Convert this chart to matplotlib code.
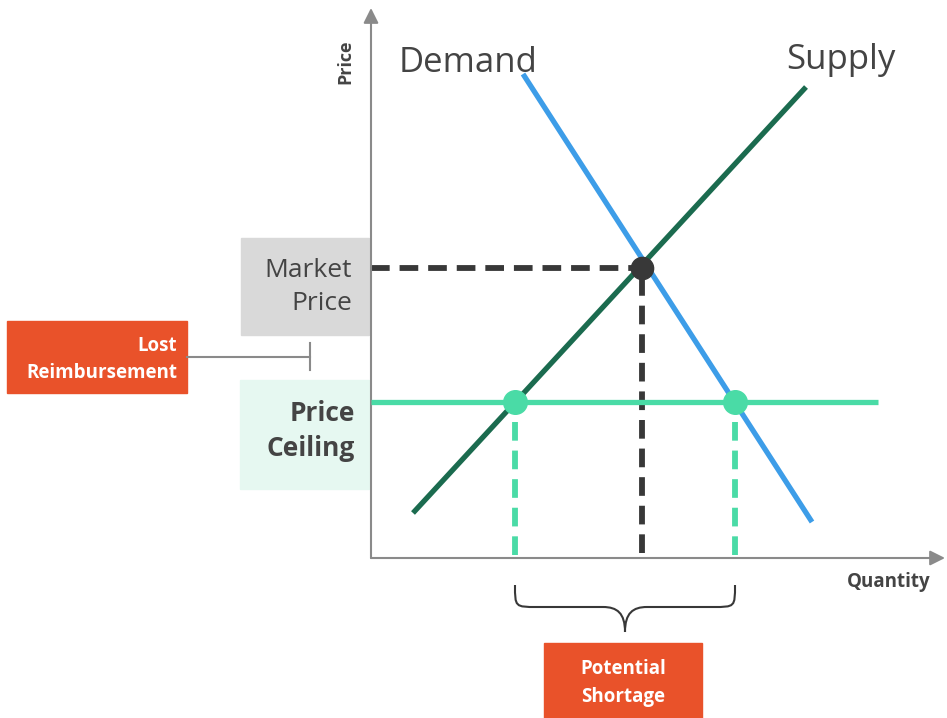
import matplotlib
matplotlib.use("Agg")
import matplotlib.pyplot as plt
from matplotlib.patches import Rectangle, PathPatch
from matplotlib.path import Path

plt.rcParams['font.family'] = ['Open Sans', 'DejaVu Sans']

# ---- data (quantity, price in chart units) ----
supply_q = [42, 435]
supply_p = [45, 471]
demand_q = [152, 441]
demand_p = [484, 36]
equilibrium_q = [271]
equilibrium_p = [290]
ceiling_price = 156
ceiling_q_range = [0, 507]
shortage_q = [144, 364]   # quantity supplied, quantity demanded at ceiling

C_SUPPLY = '#1b6b4f'
C_DEMAND = '#3d9de8'
C_CEIL = '#4adba6'
C_DARK = '#383838'
C_ORANGE = '#e9522a'
C_TEXT = '#444444'
C_AXIS = '#8a8a8a'

W, H = 947, 718
fig = plt.figure(figsize=(W / 100, H / 100), dpi=100)
ox, oy = 371, 558
ax_w, ax_h = 574, 550
ax = fig.add_axes([ox / W, (H - oy) / H, ax_w / W, ax_h / H])
ax.set_xlim(0, ax_w)
ax.set_ylim(0, ax_h)
ax.set_axis_off()

# axes with arrows
ax.annotate('', xy=(1.0, 0), xytext=(0, 0), xycoords='axes fraction',
            arrowprops=dict(arrowstyle='-|>,head_length=0.9,head_width=0.45',
                            color=C_AXIS, lw=1.5, shrinkA=0, shrinkB=0))
ax.annotate('', xy=(0, 1.0), xytext=(0, 0), xycoords='axes fraction',
            arrowprops=dict(arrowstyle='-|>,head_length=0.9,head_width=0.45',
                            color=C_AXIS, lw=1.5, shrinkA=0, shrinkB=0))

# dashed guides
ax.plot([0, equilibrium_q[0]], [equilibrium_p[0]] * 2, color=C_DARK, lw=4.2,
        dashes=(3.2, 1.7), dash_capstyle='butt', zorder=2)
ax.plot([equilibrium_q[0]] * 2, [5, equilibrium_p[0]], color=C_DARK, lw=4.2,
        dashes=(3.2, 1.7), dash_capstyle='butt', zorder=2)
for q in shortage_q:
    ax.plot([q, q], [3, ceiling_price], color=C_CEIL, lw=4.2,
            dashes=(3.2, 1.7), dash_capstyle='butt', zorder=2)

# price ceiling line
ax.plot(ceiling_q_range, [ceiling_price] * 2, color=C_CEIL, lw=3.8,
        solid_capstyle='butt', zorder=3)

# supply & demand
ax.plot(supply_q, supply_p, color=C_SUPPLY, lw=3.8, solid_capstyle='butt', zorder=4)
ax.plot(demand_q, demand_p, color=C_DEMAND, lw=3.8, solid_capstyle='butt', zorder=4)

# points
ax.plot(equilibrium_q, equilibrium_p, 'o', color=C_DARK, ms=16, zorder=6)
ax.plot(shortage_q, [ceiling_price] * 2, 'o', color=C_CEIL, ms=17, zorder=6)

# curve labels
ax.text(28, 495, 'Demand', fontsize=25, color=C_TEXT, ha='left', va='center')
ax.text(415, 498, 'Supply', fontsize=25, color=C_TEXT, ha='left', va='center')
ax.text(-26, 496, 'Price', fontsize=13, fontweight='bold', color=C_TEXT,
        rotation=90, ha='center', va='center')
ax.text(560, -24, 'Quantity', fontsize=13.5, fontweight='bold', color=C_TEXT,
        ha='right', va='center', clip_on=False)

# Market price box
ax.add_patch(Rectangle((-130, 223), 128, 97, color='#d9d9d9', clip_on=False, zorder=1))
ax.text(-19, 271, 'Market\nPrice', fontsize=19, color=C_TEXT, ha='right',
        va='center', linespacing=1.42, clip_on=False)

# Price ceiling box
ax.add_patch(Rectangle((-131, 69), 129, 109, color='#e6f8f1', clip_on=False, zorder=1))
ax.text(-16, 127, 'Price\nCeiling', fontsize=19, fontweight='bold', color=C_TEXT,
        ha='right', va='center', linespacing=1.42, clip_on=False)

# Lost reimbursement box and connector
ax.add_patch(Rectangle((-364, 165), 180, 72, color=C_ORANGE, clip_on=False, zorder=1))
ax.text(-194, 198.5, 'Lost\nReimbursement', fontsize=13.5, fontweight='bold',
        color='white', ha='right', va='center', linespacing=1.5, clip_on=False)
ax.plot([-184, -61], [201, 201], color=C_AXIS, lw=1.5, clip_on=False)
ax.plot([-61, -61], [188, 215], color=C_AXIS, lw=1.5, clip_on=False)

# Brace under shortage
q0, q1 = shortage_q
qm = (q0 + q1) / 2
top, mid, tip = -27, -49, -74
verts = [(q0, top), (q0, mid), (q0, mid), (q0 + 22, mid),
         (qm - 22, mid),
         (qm - 8, mid), (qm, mid - 6), (qm, tip),
         (qm, mid - 6), (qm + 8, mid), (qm + 22, mid),
         (q1 - 22, mid),
         (q1, mid), (q1, mid), (q1, top)]
codes = [Path.MOVETO, Path.CURVE4, Path.CURVE4, Path.CURVE4,
         Path.LINETO,
         Path.CURVE4, Path.CURVE4, Path.CURVE4,
         Path.CURVE4, Path.CURVE4, Path.CURVE4,
         Path.LINETO,
         Path.CURVE4, Path.CURVE4, Path.CURVE4]
ax.add_patch(PathPatch(Path(verts, codes), fill=False, edgecolor=C_DARK, lw=1.5,
                       clip_on=False))

# Potential shortage box
ax.add_patch(Rectangle((173, -160), 158, 75, color=C_ORANGE, clip_on=False, zorder=1))
ax.text(252, -125, 'Potential\nShortage', fontsize=13.5, fontweight='bold',
        color='white', ha='center', va='center', linespacing=1.5, clip_on=False)

fig.savefig('out.png', dpi=100)
